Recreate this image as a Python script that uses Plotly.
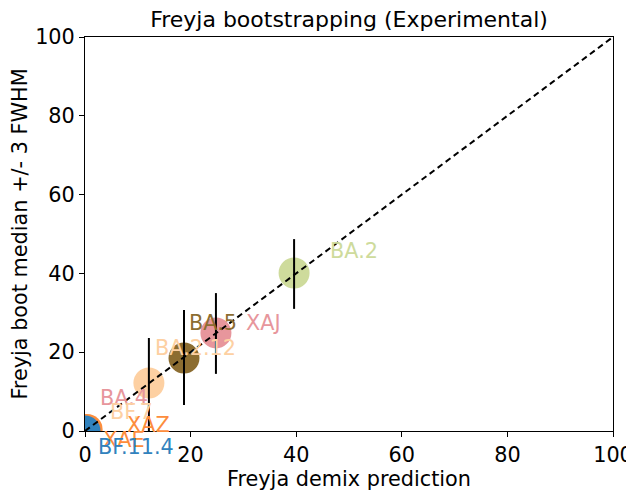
import plotly.graph_objects as go

# Points (Freyja demix prediction vs bootstrap median)
point_x = [0.4, 0.0, 12.1, 18.75, 24.8, 39.6]
point_y = [0.4, 0.0, 12.2, 18.5, 24.9, 40.1]
point_colors = ["#fd8d3c", "#3182bd", "#fdd0a2", "#8c6d31", "#e7969c", "#cedb9c"]

# Error bars (median +/- 3 FWHM)
bar_x = [12.1, 18.75, 24.8, 39.6]
bar_low = [-1.0, 6.6, 14.5, 31.0]
bar_high = [23.6, 30.7, 35.0, 48.7]

# Lineage labels
label_text = ["BA.2", "BA.5", "XAJ", "BA.2.12", "BA.4", "BF.7", "XAZ", "XAE", "BF.11.4"]
label_x = [46.1, 19.25, 30.2, 12.8, 2.5, 4.4, 7.6, 3.0, 2.15]
label_y = [45.8, 27.3, 27.3, 21.0, 8.3, 4.9, 1.5, -2.3, -4.0]
label_colors = ["#cedb9c", "#8c6d31", "#e7969c", "#fdd0a2", "#e7969c", "#fdd0a2",
                "#fd8d3c", "#fd8d3c", "#3182bd"]

ticks = [0, 20, 40, 60, 80, 100]
FONT = "DejaVu Sans"

# page body has an 8px default margin; compensate
W, H = 634 - 8, 492 - 8
ML, MT, MR, MB = 85 - 8, 37 - 8, 21, 61
PX_PER_Y = (H - MT - MB) / 100.0

fig = go.Figure()

fig.add_trace(go.Scatter(
    x=point_x, y=point_y, mode="markers",
    marker=dict(size=31, color=point_colors, line=dict(width=0)),
    cliponaxis=True, hoverinfo="skip", showlegend=False))

fig.add_trace(go.Scatter(
    x=[0, 100], y=[0, 100], mode="lines",
    line=dict(color="black", width=2, dash="6px,4px"),
    showlegend=False, hoverinfo="skip"))

ex, ey = [], []
for xv, lo, hi in zip(bar_x, bar_low, bar_high):
    ex += [xv, xv, None]
    ey += [lo, hi, None]
fig.add_trace(go.Scatter(
    x=ex, y=ey, mode="lines", line=dict(color="black", width=2),
    showlegend=False, hoverinfo="skip", cliponaxis=True))

for t, xv, yv, c in zip(label_text, label_x, label_y, label_colors):
    fig.add_annotation(x=xv, y=max(yv, 0), yshift=min(yv, 0) * PX_PER_Y,
                       xref="x", yref="y", text=t, showarrow=False,
                       xanchor="left", yanchor="middle",
                       font=dict(family=FONT, size=20.8, color=c))

axis_common = dict(
    range=[0, 100], tickvals=ticks, ticktext=[str(v) for v in ticks],
    showgrid=False, zeroline=False, showline=True, linecolor="black", linewidth=1,
    mirror=True, ticks="outside", ticklen=5, tickwidth=1, tickcolor="black",
    tickfont=dict(family=FONT, size=20.8, color="black"), automargin=False,
)

fig.update_layout(
    width=W, height=H,
    margin=dict(l=ML, r=MR, t=MT, b=MB),
    paper_bgcolor="white", plot_bgcolor="white",
    title=dict(text="Freyja bootstrapping (Experimental)",
               x=(ML + (W - MR)) / 2 / W,
               xanchor="center", y=1 - 11 / H, yanchor="middle",
               font=dict(family=FONT, size=22, color="black")),
    xaxis=dict(**axis_common,
               title=dict(text="Freyja demix prediction", standoff=5,
                          font=dict(family=FONT, size=20.8, color="black"))),
    yaxis=dict(**axis_common,
               title=dict(text="Freyja boot median +/- 3 FWHM", standoff=2,
                          font=dict(family=FONT, size=20.8, color="black"))),
)

fig.write_html("out.html")
